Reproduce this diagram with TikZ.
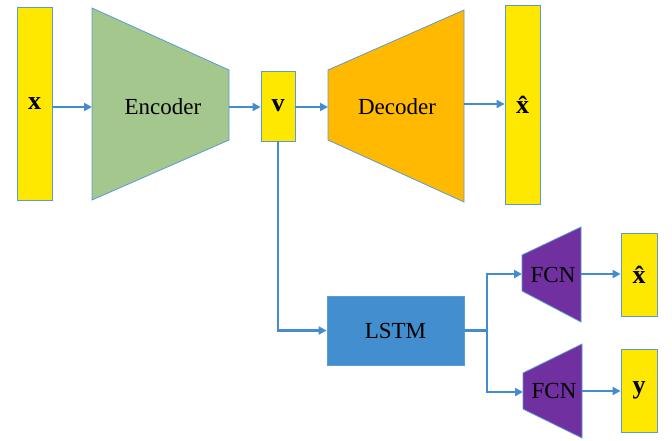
\documentclass[tikz,border=0pt]{standalone}
\usepackage{fontspec}
\setmainfont{Liberation Serif}
\usetikzlibrary{arrows.meta}
\definecolor{ybox}{RGB}{255,232,0}
\definecolor{enc}{RGB}{163,199,140}
\definecolor{dec}{RGB}{255,185,0}
\definecolor{lstmc}{RGB}{66,142,206}
\definecolor{fcn}{RGB}{112,48,160}
\definecolor{edgec}{RGB}{91,155,213}
\definecolor{arr}{RGB}{68,140,208}
\begin{document}
\begin{tikzpicture}[x=1pt,y=-1pt,
  vec/.style={draw=edgec, line width=0.8pt, fill=ybox, inner sep=0pt, font=\fontsize{26}{28}\selectfont\bfseries},
  trap/.style={draw=edgec, line width=0.8pt},
  lbl/.style={font=\fontsize{23}{25}\selectfont, text=black},
  conn/.style={draw=arr, line width=2.4pt, -{Triangle[length=8pt,width=8pt]}},
  line/.style={draw=arr, line width=2.4pt}]
\useasboundingbox (0,0) rectangle (672,440);
% vectors
\node[vec, minimum width=35pt, minimum height=193pt] (x) at (34.5,103.5) {x};
\node[vec, minimum width=34pt, minimum height=70pt] (v) at (278,106) {v};
\node[vec, minimum width=35pt, minimum height=199pt] (xh) at (522.5,104.5) {\^{x}};
\node[vec, minimum width=36pt, minimum height=83pt] (xh2) at (639,274.5) {\^{x}};
\node[vec, minimum width=36pt, minimum height=83pt] (y) at (639,390.5) {y};
% encoder
\filldraw[trap, fill=enc] (92,8) -- (229,70) -- (229,140) -- (92,200) -- cycle;
\node[lbl] (enctext) at (163,107) {Encoder};
\coordinate (encL) at (92,107);
\coordinate (encR) at (229,107);
% decoder
\filldraw[trap, fill=dec] (328,70) -- (464,10) -- (464,202) -- (328,140) -- cycle;
\node[lbl] (dectext) at (397,107) {Decoder};
\coordinate (decL) at (328,107);
\coordinate (decR) at (464,104);
% LSTM
\node[draw=edgec, line width=0.8pt, fill=lstmc, minimum width=137pt, minimum height=69pt, lbl] (lstm) at (395.5,330.5) {LSTM};
% FCNs
\filldraw[trap, fill=fcn] (522,255) -- (581,227) -- (581,322) -- (522,291) -- cycle;
\node[lbl] (f1text) at (553,275) {FCN};
\coordinate (f1L) at (522,274);
\coordinate (f1R) at (581,274);
\filldraw[trap, fill=fcn] (523,373) -- (582,344) -- (582,438) -- (523,409) -- cycle;
\node[lbl] (f2text) at (554,391) {FCN};
\coordinate (f2L) at (523,392);
\coordinate (f2R) at (582,391);
\coordinate (br) at (487,330.5);
% connectors
\draw[conn] (x.east |- encL) -- (encL);
\draw[conn] (encR) -- (v.west |- encR);
\draw[conn] (v.east |- decL) -- (decL);
\draw[conn] (decR) -- (xh.west |- decR);
\draw[conn] (v.south) |- (lstm.west);
\draw[line] (lstm.east) -- (br);
\draw[conn] (br) |- (f1L);
\draw[conn] (br) |- (f2L);
\draw[conn] (f1R) -- (xh2.west |- f1R);
\draw[conn] (f2R) -- (y.west |- f2R);
\end{tikzpicture}
\end{document}
